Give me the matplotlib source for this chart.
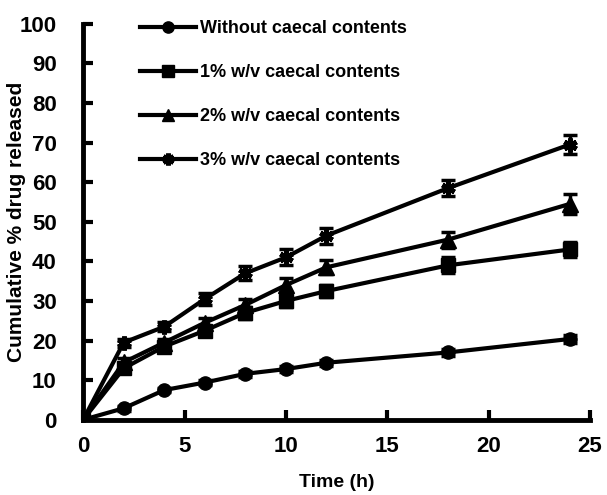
import numpy as np
import matplotlib
matplotlib.use("Agg")
import matplotlib.pyplot as plt

plt.rcParams['font.family'] = ['Liberation Sans', 'DejaVu Sans']
plt.rcParams['font.weight'] = 'bold'

# time points (h)
time = [0, 2, 4, 6, 8, 10, 12, 18, 24]

# cumulative % released
without = [0, 2.9, 7.5, 9.4, 11.6, 12.8, 14.4, 17.0, 20.4]
pc1 = [0, 13.0, 18.5, 22.5, 27.0, 30.0, 32.5, 39.0, 43.0]
pc2 = [0, 14.5, 19.5, 24.5, 29.0, 34.0, 38.5, 45.5, 54.5]
pc3 = [0, 19.5, 23.5, 30.5, 37.0, 41.0, 46.5, 58.5, 69.5]

err0 = [0, 0.6, 0.6, 0.7, 0.8, 0.8, 0.8, 0.9, 1.0]
err1 = [0, 1.0, 1.0, 1.2, 1.5, 1.5, 1.5, 2.0, 2.0]
err2 = [0, 1.0, 1.0, 1.2, 1.5, 1.8, 1.8, 2.0, 2.5]
err3 = [0, 1.0, 1.2, 1.5, 1.8, 2.0, 2.0, 2.0, 2.5]

labels = ['Without caecal contents', '1% w/v caecal contents',
          '2% w/v caecal contents', '3% w/v caecal contents']

fig = plt.figure(figsize=(6.07, 4.95), dpi=100)
ax = fig.add_axes([0.137, 0.152, 0.835, 0.8])

series = [(without, err0, 'o', 9.5, 1), (pc1, err1, 's', 10, 1),
          (pc2, err2, '^', 11, 1), (pc3, err3, (6, 2, 0), 10, 3.5)]
for (y, e, m, ms, mw), lab in zip(series, labels):
    ax.errorbar(time, y, yerr=e, fmt='none', ecolor='black', capsize=5,
                capthick=2.5, elinewidth=2.5)
    ax.plot(time, y, color='black', lw=3, marker=m, ms=ms, mew=mw,
            mec='black', mfc='black', label=lab)

ax.set_xlim(0, 25)
ax.set_ylim(0, 100)
ax.set_xticks(range(0, 26, 5))
ax.set_yticks(range(0, 101, 10))
for s in ['top', 'right']:
    ax.spines[s].set_visible(False)
for s in ['left', 'bottom']:
    ax.spines[s].set_linewidth(3.5)
ax.tick_params(direction='in', length=7, width=3, labelsize=16)
ax.tick_params(axis='y', pad=19)
ax.tick_params(axis='x', pad=12)

ax.set_xlabel('Time (h)', fontsize=14, fontweight='bold', labelpad=12)
ax.set_ylabel('Cumulative % drug released', fontsize=15, fontweight='bold')
ax.yaxis.set_label_coords(-0.112, 0.5)

ax.legend(loc='upper left', bbox_to_anchor=(0.08, 1.05), frameon=False,
          prop={'size': 13, 'weight': 'bold'}, labelspacing=1.5,
          handlelength=3.1, handletextpad=0.25, markerscale=0.85)

fig.savefig('out.png', dpi=100)
